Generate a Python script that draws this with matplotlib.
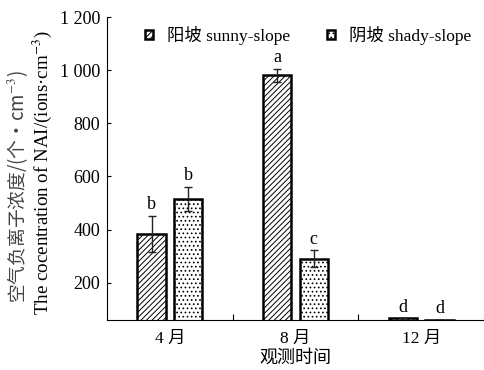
import matplotlib
matplotlib.use("Agg")
import matplotlib.pyplot as plt
import numpy as np
from matplotlib.ticker import FixedLocator, FuncFormatter

plt.rcParams['font.family'] = ['Liberation Serif', 'Noto Sans CJK SC']
plt.rcParams['mathtext.fontset'] = 'stix'
plt.rcParams['hatch.linewidth'] = 0.7

# Negative air ion concentration by month and slope aspect
months = ['4 月', '8 月', '12 月']
sunny = [385, 980, 66]
sunny_err = [68, 24, 0]
shady = [515, 290, 60]
shady_err = [45, 32, 0]
sunny_sig = ['b', 'a', 'd']
shady_sig = ['b', 'c', 'd']

fig = plt.figure(figsize=(4.85, 3.70), dpi=100)
ax = fig.add_axes([107 / 485, 50 / 370, 377 / 485, 303 / 370])

x = np.arange(len(months))
w = 0.226
off = 0.145
err_kw = dict(ecolor='#222222', elinewidth=1.0, capsize=3, capthick=1.0)

ax.bar(x - off, sunny, w, color='white', edgecolor='black',
       linewidth=1.8, hatch='//////', yerr=sunny_err, error_kw=err_kw,
       label='阳坡 sunny-slope')
ax.bar(x + off, shady, w, color='white', edgecolor='black',
       linewidth=1.8, hatch='....', yerr=shady_err, error_kw=err_kw,
       label='阴坡 shady-slope')

for xs, vals, errs, sig in [(x - off, sunny, sunny_err, sunny_sig),
                            (x + off, shady, shady_err, shady_sig)]:
    for xi, v, e, s in zip(xs, vals, errs, sig):
        ax.annotate(s, (xi, v + e), xytext=(0, 2), textcoords='offset points',
                    ha='center', va='bottom', fontsize=13)

ax.set_xlim(-0.5, 2.5)
ax.set_ylim(60, 1200)
ax.set_xticks(x)
ax.set_xticklabels(months, fontsize=12.5)
ax.xaxis.set_minor_locator(FixedLocator([0.5, 1.5, 2.5]))
ax.tick_params(axis='x', which='major', length=0, pad=8)
ax.tick_params(axis='x', which='minor', direction='in', length=4, width=0.8)
ax.set_yticks([200, 400, 600, 800, 1000, 1200])
ax.yaxis.set_major_formatter(FuncFormatter(
    lambda v, p: f'{int(v):,}'.replace(',', ' ')))
ax.tick_params(axis='y', direction='in', length=3, width=0.8, labelsize=13, pad=5)

for side in ['top', 'right']:
    ax.spines[side].set_visible(False)
for side in ['left', 'bottom']:
    ax.spines[side].set_linewidth(0.8)

ax.set_xlabel('观测时间', fontsize=13, labelpad=2)
fig.text(18 / 485, 183 / 370, '空气负离子浓度/(个·cm$^{-3}$)', rotation=90,
         ha='center', va='center', fontsize=13.5, color='#444444',
         family=['Noto Sans CJK SC'])
fig.text(42 / 485, 197 / 370, 'The cocentration of NAI/(ions·cm$^{-3}$)',
         rotation=90, ha='center', va='center', fontsize=13.7)

ax.legend(loc='center left', bbox_to_anchor=(0.10, 0.94), ncol=2, frameon=False,
          fontsize=12.5, handlelength=0.45, handleheight=0.45, columnspacing=2.1,
          handletextpad=0.85, borderpad=0, borderaxespad=0)

fig.savefig('out.png', dpi=100)
